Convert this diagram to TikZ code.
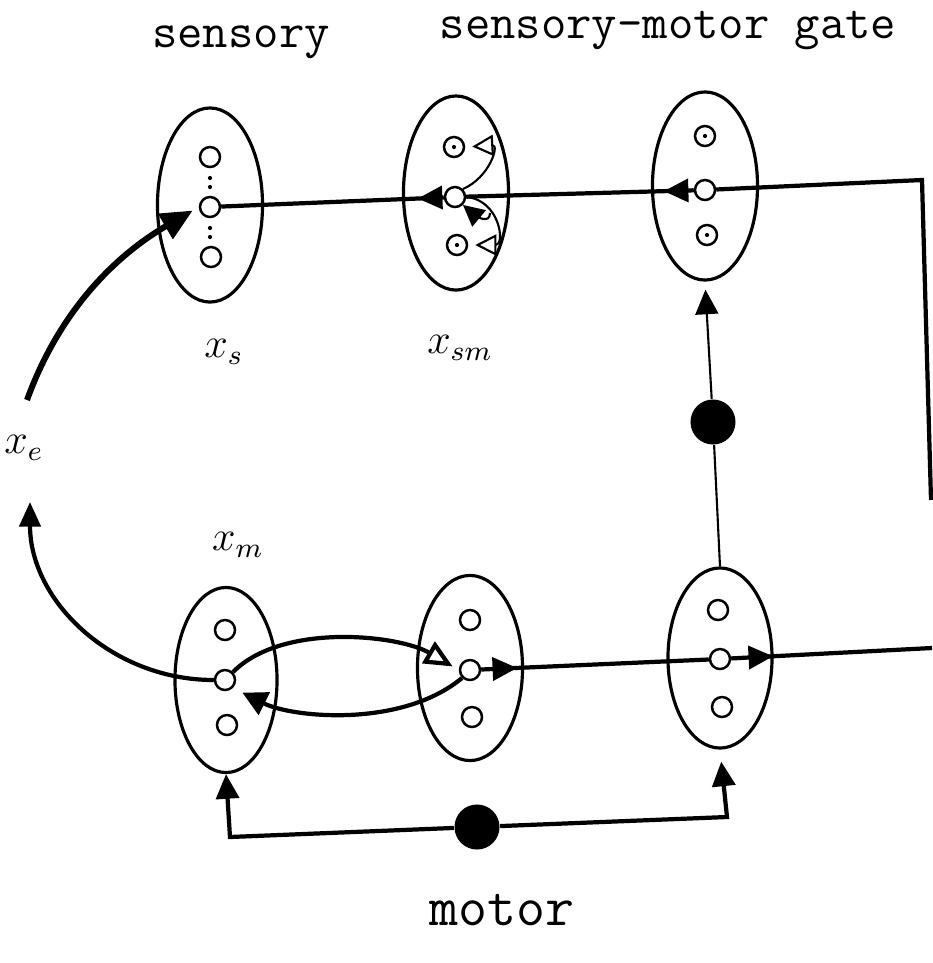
\documentclass[tikz,border=0pt]{standalone}
\usetikzlibrary{arrows.meta,decorations.markings,shapes.geometric}
\tikzset{
  pool/.style={
    ellipse,
    draw,
    line width=.9pt,
    minimum width=1.05cm,
    minimum height=1.94cm,
    inner sep=0pt
  },
  cell/.style={
    circle,
    draw,
    line width=.7pt,
    minimum size=.2cm,
    inner sep=0pt
  },
  dotcell/.style={
    cell,
    path picture={\fill (path picture bounding box.center) circle (.6pt);}
  },
  gain/.style={
    circle,
    fill,
    minimum size=.45cm,
    inner sep=0pt
  },
  wire/.style={line width=1.2pt},
  thinwire/.style={line width=.6pt},
  tipat/.style={
    postaction={decorate},
    decoration={markings,mark=at position #1 with {\arrow{Triangle[length=7pt,width=6.5pt]}}}
  },
  lbl/.style={font=\ttfamily\fontsize{14}{16}\selectfont},
  var/.style={font=\fontsize{12}{14}\selectfont}
}

\begin{document}
\begin{tikzpicture}[x=.01cm,y=-.01cm]
\useasboundingbox (0,0) rectangle (932,963);
% titles
\node[lbl] (tsens) at (241,42) {sensory};
\node[lbl] (tgate) at (668,30) {sensory-motor gate};
\node[lbl,font=\ttfamily\fontsize{16}{18}\selectfont] (tmot) at (502,910) {motor};

% pools
\node[pool] (S) at (210,205) {};
\node[pool] (SM) at (456,193) {};
\node[pool,minimum height=1.88cm] (G) at (705,186) {};
\node[pool,minimum width=1.02cm,minimum height=1.85cm] (M) at (226,680) {};
\node[pool,minimum height=1.85cm] (D) at (470,668) {};
\node[pool,minimum width=1.04cm,minimum height=1.8cm] (R) at (720,658) {};

% cells
\node[cell] (s1) at (210,157) {};
\node[cell] (s2) at (210,207) {};
\node[cell] (s3) at (211,257) {};
\foreach \y in {178,187,228,237} \fill (210,\y) circle (.6pt);
\node[dotcell] (sm1) at (454,147) {};
\node[cell] (sm2) at (455,197) {};
\node[dotcell] (sm3) at (457,245) {};
\node[dotcell] (g1) at (705,136) {};
\node[cell] (g2) at (705,190) {};
\node[dotcell] (g3) at (707,235) {};
\node[cell] (m1) at (225,630) {};
\node[cell] (m2) at (225,680) {};
\node[cell] (m3) at (227,725) {};
\node[cell] (d1) at (470,620) {};
\node[cell] (d2) at (470,670) {};
\node[cell] (d3) at (472,717) {};
\node[cell] (r1) at (718,610) {};
\node[cell] (r2) at (720,659) {};
\node[cell] (r3) at (722,707) {};

% labels
\node[var] (ls) at (224,352) {$x_s$};
\node[var] (lsm) at (460,348) {$x_{sm}$};
\node[var] (lm) at (238,545) {$x_m$};
\node[var] (le) at (24,448) {$x_e$};

% gains
\node[gain] (gv) at (713,422) {};
\node[gain] (gb) at (477,827) {};

% top row
\coordinate (gr) at (922,180);
\coordinate (ge) at (931,500);
\draw[wire] (ge) -- (gr) -- (g2);
\draw[wire,tipat=.3cm] (g2) -- (sm2);
\draw[wire,tipat=.26cm] (sm2) -- (s2);
\draw[thinwire,-{Triangle[open,length=6pt,width=6pt]},shorten >=2pt] (sm2.north east) .. controls +(27,-12) and +(34,-2) .. (sm1.east);
\draw[thinwire,-{Triangle[open,length=6pt,width=6pt]},shorten >=2pt] (sm2.east) .. controls +(34,3) and +(37,0) .. (sm3.east);
\coordinate (hk) at (490,213);
\draw[thinwire,-{Triangle[length=6pt,width=6pt]}] (hk) .. controls +(0,12) and +(12,10) .. (sm2.south east);

% external input
\coordinate (xin) at (27,400);
\draw[line width=1.7pt,-{Triangle[length=9pt,width=8pt]},shorten >=2pt] (xin) .. controls +(40,-110) and +(-60,35) .. (s2.west);

% bottom row
\coordinate (ro) at (932,648);
\draw[wire,tipat=.36cm] (d2) -- (r2);
\draw[wire,tipat=.42cm] (r2) -- (ro);
\draw[wire,-{Triangle[open,length=8pt,width=7pt]},shorten >=2pt] (m2.north east) .. controls +(50,-50) and +(-60,-35) .. (d2.west);
\draw[wire,-{Triangle[length=7pt,width=7pt]},shorten >=3pt] (d2.south west) .. controls +(-60,50) and +(60,30) .. (m2.south east);
\coordinate (xout) at (30,502);
\draw[wire,-{Triangle[length=7pt,width=6pt]}] (m2.west) .. controls +(-102,0) and +(0,99) .. (xout);

% gate path
\draw[thinwire] (R.north) -- (gv);
\draw[thinwire,-{Triangle[length=7pt,width=6.5pt]},shorten >=.08cm] (gv) -- (G.south);
\coordinate (bl) at (230,837);
\coordinate (br) at (727,817);
\draw[wire,-{Triangle[length=7pt,width=6.5pt]}] (gb) -- (bl) -- (M.south);
\draw[wire,-{Triangle[length=7pt,width=6.5pt]},shorten >=.12cm] (gb) -- (br) -- (R.south);
\end{tikzpicture}
\end{document}
